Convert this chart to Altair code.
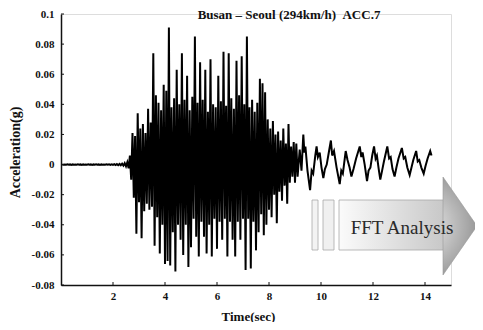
import altair as alt
import pandas as pd

# ---- Signal data (acceleration in g) ----
# Alternating extremes on the 0.1 s sample grid: upper at t = 0.05 + 0.1k, lower at t = 0.10 + 0.1k
upper = [
    # quiet part 0.05 .. 2.55
    0.0001, 0.0001, 0.0002, 0.0001, 0.0001, 0.0001, 0.0002, 0.0001, 0.0001, 0.0001,
    0.0002, 0.0001, 0.0001, 0.0002, 0.0001, 0.0001, 0.0001, 0.0002, 0.0002, 0.0002,
    0.0003, 0.0003, 0.0004, 0.0006, 0.0009, 0.0015,
    # train passage 2.65 .. 8.85
    0.006, 0.021, 0.019, 0.034, 0.024, 0.027, 0.021, 0.037, 0.028, 0.074,
    0.046, 0.041, 0.036, 0.053, 0.049, 0.091, 0.038, 0.044, 0.063, 0.040,
    0.074, 0.043, 0.059, 0.036, 0.045, 0.085, 0.041, 0.068, 0.043, 0.063,
    0.035, 0.070, 0.040, 0.038, 0.059, 0.042, 0.075, 0.039, 0.074, 0.044,
    0.037, 0.069, 0.046, 0.072, 0.040, 0.085, 0.038, 0.043, 0.035, 0.041,
    0.057, 0.054, 0.048, 0.030, 0.024, 0.029, 0.020, 0.022, 0.016, 0.024,
    0.014, 0.027, 0.012,
]
lower = [
    # quiet part 0.10 .. 2.60
    -0.0001, -0.0001, -0.0001, -0.0002, -0.0001, -0.0001, -0.0001, -0.0002, -0.0001, -0.0001,
    -0.0001, -0.0002, -0.0001, -0.0001, -0.0002, -0.0001, -0.0001, -0.0001, -0.0002, -0.0002,
    -0.0003, -0.0004, -0.0005, -0.0007, -0.0012, -0.0025,
    # train passage 2.70 .. 8.90
    -0.010, -0.022, -0.046, -0.025, -0.049, -0.031, -0.026, -0.030, -0.028, -0.054,
    -0.035, -0.059, -0.040, -0.066, -0.064, -0.067, -0.045, -0.071, -0.040, -0.050,
    -0.060, -0.040, -0.068, -0.055, -0.036, -0.048, -0.061, -0.038, -0.048, -0.059,
    -0.040, -0.061, -0.036, -0.056, -0.038, -0.050, -0.036, -0.061, -0.038, -0.050,
    -0.061, -0.038, -0.050, -0.036, -0.070, -0.036, -0.069, -0.038, -0.057, -0.045,
    -0.033, -0.047, -0.040, -0.030, -0.035, -0.020, -0.039, -0.018, -0.024, -0.014,
    -0.026, -0.012, -0.008,
]
# free vibration after the passage
tail_t = [8.95, 9.00, 9.05, 9.10, 9.18, 9.25, 9.32, 9.36, 9.40, 9.48,
          9.58, 9.64, 9.70, 9.78, 9.83, 9.88, 9.95, 10.02, 10.09, 10.15,
          10.22, 10.30, 10.38, 10.43, 10.50, 10.60, 10.72, 10.78, 10.84, 10.95,
          11.02, 11.10, 11.17, 11.25, 11.35, 11.49, 11.55, 11.60, 11.68, 11.77,
          11.83, 11.90, 11.97, 12.04, 12.10, 12.15, 12.22, 12.28, 12.35, 12.42,
          12.55, 12.62, 12.68, 12.75, 12.83, 12.90, 12.98, 13.11, 13.18, 13.24,
          13.32, 13.41, 13.48, 13.55, 13.66, 13.72, 13.78, 13.86, 13.95, 14.02,
          14.10, 14.20, 14.25]
tail_v = [0.015, -0.012, 0.014, -0.008, 0.010, -0.004, 0.020, 0.008, 0.012, -0.004,
          -0.017, -0.004, -0.006, 0.006, 0.012, 0.005, 0.008, -0.002, -0.009, -0.003,
          0.000, 0.008, 0.016, 0.006, 0.009, -0.002, -0.013, -0.004, -0.006, 0.009,
          0.003, -0.002, -0.008, -0.003, 0.004, 0.012, 0.005, 0.008, 0.000, -0.011,
          -0.004, -0.002, 0.006, 0.012, 0.004, 0.006, -0.003, -0.010, -0.004, 0.002,
          0.012, 0.004, 0.005, -0.003, -0.008, -0.002, 0.004, 0.011, 0.004, 0.005,
          -0.002, -0.007, -0.002, 0.003, 0.009, 0.002, 0.003, -0.002, -0.006, -0.001,
          0.004, 0.009, 0.006]

x_ticks = [2, 4, 6, 8, 10, 12, 14]
y_ticks = [-0.08, -0.06, -0.04, -0.02, 0, 0.02, 0.04, 0.06, 0.08, 0.1]

title_text = "Busan \u2013 Seoul (294km/h)\u00a0\u00a0ACC.7"
arrow_text = "FFT Analysis"

rows = []
for k, (u, l) in enumerate(zip(upper, lower)):
    rows.append((round(0.05 + 0.1 * k, 3), u))
    rows.append((round(0.10 + 0.1 * k, 3), l))
for t, v in zip(tail_t, tail_v):
    rows.append((t, v))
df = pd.DataFrame(rows, columns=["t", "a"])
df["i"] = range(len(df))

FONT = "Liberation Serif"
INK = "#111111"

xscale = alt.Scale(domain=[0, 15], nice=False, zero=False)
yscale = alt.Scale(domain=[-0.08, 0.1], nice=False, zero=False)

xaxis = alt.Axis(values=x_ticks, grid=False, ticks=False, labelPadding=5,
                 labelFont=FONT, labelFontWeight="bold", labelFontSize=11, labelColor=INK,
                 domainColor=INK, domainWidth=1.5,
                 title="Time(sec)", titleFont=FONT, titleFontWeight="bold", titleFontSize=13,
                 titleColor=INK, titleX=187, titleY=31, titleBaseline="middle", titleAlign="center")
yaxis = alt.Axis(values=y_ticks, grid=False, ticks=False, labelPadding=7,
                 labelExpr="replace(format(datum.value, '~g'), '\u2212', '-')",
                 labelFont=FONT, labelFontWeight="bold", labelFontSize=11, labelColor=INK,
                 domainColor=INK, domainWidth=1.5,
                 title="Acceleration(g)", titleFont=FONT, titleFontWeight="bold", titleFontSize=14,
                 titleColor=INK, titleAngle=270, titleX=-46, titleY=138,
                 titleBaseline="middle", titleAlign="center")

one = pd.DataFrame({"k": [0]})

body_grad = alt.LinearGradient(gradient="linear", x1=0, y1=0, x2=1, y2=0,
                               stops=[alt.GradientStop(offset=0, color="#fbfbfb"),
                                      alt.GradientStop(offset=1, color="#c8c8c8")])
head_grad = alt.RadialGradient(gradient="radial", x1=0.1, y1=0.5, r1=0, x2=0.1, y2=0.5, r2=0.75,
                               stops=[alt.GradientStop(offset=0, color="#f2f2f2"),
                                      alt.GradientStop(offset=1, color="#7d7d7d")])

body = alt.Chart(one).mark_rect(fill=body_grad, stroke="#a8a8a8", strokeWidth=0.8).encode(
    x=alt.value(278), x2=alt.value(383), y=alt.value(186), y2=alt.value(236))
bar1 = alt.Chart(one).mark_rect(fill="#f3f3f3", stroke="#a8a8a8", strokeWidth=0.8).encode(
    x=alt.value(251), x2=alt.value(257), y=alt.value(186), y2=alt.value(236))
bar2 = alt.Chart(one).mark_rect(fill="#f0f0f0", stroke="#a8a8a8", strokeWidth=0.8).encode(
    x=alt.value(262), x2=alt.value(273), y=alt.value(186), y2=alt.value(236))
head = alt.Chart(one).mark_point(shape="M-0.347,-1L0.347,0L-0.347,1Z", size=9604, filled=True,
                                 fill=head_grad, stroke="#9a9a9a", strokeWidth=0.6, opacity=1).encode(
    x=alt.value(399), y=alt.value(212))
fft = alt.Chart(one).mark_text(text=arrow_text, font=FONT, fontSize=19, color="#2a2a2a",
                               align="center", baseline="middle").encode(
    x=alt.value(341), y=alt.value(214))

line = alt.Chart(df).mark_line(color="black", strokeWidth=2.0, strokeJoin="miter").encode(
    x=alt.X("t:Q", scale=xscale, axis=xaxis),
    y=alt.Y("a:Q", scale=yscale, axis=yaxis),
    order="i:Q")

ytick_marks = alt.Chart(pd.DataFrame({"v": y_ticks})).mark_rule(color=INK, strokeWidth=1).encode(
    x=alt.value(0), x2=alt.value(3), y=alt.Y("v:Q", scale=yscale, axis=yaxis))
xtick_marks = alt.Chart(pd.DataFrame({"t": x_ticks})).mark_rule(color=INK, strokeWidth=1).encode(
    x=alt.X("t:Q", scale=xscale, axis=xaxis), y=alt.value(271), y2=alt.value(268))

title = alt.Chart(one).mark_text(text=title_text, font=FONT, fontSize=13, fontWeight="bold",
                                 color=INK, align="center", baseline="middle").encode(
    x=alt.value(228), y=alt.value(1))

chart = alt.layer(body, bar1, bar2, head, fft, line, ytick_marks, xtick_marks, title).properties(
    width=390, height=271,
    autosize=alt.AutoSizeParams(type="none"),
    padding={"left": 53, "top": 6, "right": 24, "bottom": 37},
).configure_view(stroke=None).configure(background="white")

chart.save("out.html", embed_options={"renderer": "svg", "actions": False})
